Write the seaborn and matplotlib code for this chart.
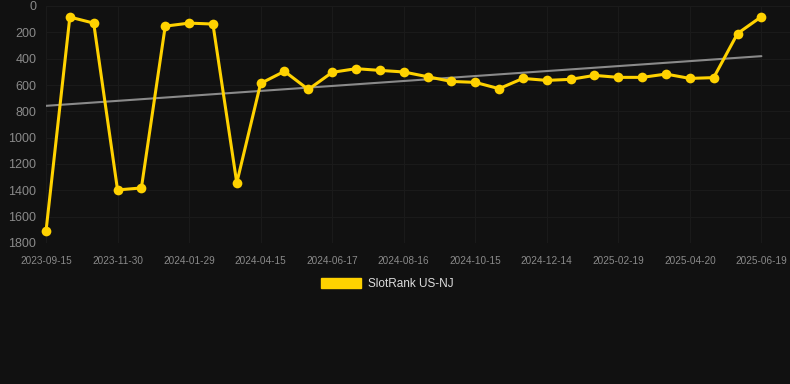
import numpy as np
import pandas as pd
import matplotlib
matplotlib.use("Agg")
import matplotlib.pyplot as plt
import matplotlib.patches as mpatches
import seaborn as sns

# rank values (lower is better), one per observation
ranks = [1710, 84, 130, 1397, 1382, 153, 130, 137, 1343, 588,
         496, 634, 504, 476, 489, 501, 537, 573, 580, 628,
         550, 565, 557, 527, 542, 542, 517, 550, 544, 209, 81]
tick_labels = ['2023-09-15', '2023-11-30', '2024-01-29', '2024-04-15',
               '2024-06-17', '2024-08-16', '2024-10-15', '2024-12-14',
               '2025-02-19', '2025-04-20', '2025-06-19']
series_name = 'SlotRank US-NJ'

bg = '#111111'
gold = '#FFD200'

sns.set_theme(style='dark')
plt.rcParams['font.family'] = ['Liberation Sans', 'DejaVu Sans']

df = pd.DataFrame({'idx': np.arange(len(ranks)), 'rank': ranks})

fig = plt.figure(figsize=(7.9, 3.84), dpi=100, facecolor=bg)
ax = fig.add_axes([46 / 790, (384 - 243) / 384, 744 / 790, 237 / 384])
ax.set_facecolor(bg)

# trend line (least squares fit)
k, b = np.polyfit(df['idx'], df['rank'], 1)
trend = pd.DataFrame({'idx': [0, len(ranks) - 1]})
trend['rank'] = k * trend['idx'] + b
sns.lineplot(data=trend, x='idx', y='rank', ax=ax, color='#8a8a8a', linewidth=1.5)

sns.lineplot(data=df, x='idx', y='rank', ax=ax, color=gold, linewidth=2.2,
             marker='o', markersize=7, markeredgewidth=0, clip_on=False)

ax.set_ylim(1800, 0)
ax.set_xlim(0, 31.2)
ax.set_yticks(range(0, 1801, 200))
ax.set_xticks(range(0, len(ranks), 3))
ax.set_xticklabels(tick_labels)
ax.set_xlabel('')
ax.set_ylabel('')
ax.grid(True, color='#1a1a1a', linewidth=0.8)
for s in ax.spines.values():
    s.set_visible(False)
ax.tick_params(axis='y', length=0, pad=7, labelsize=9, labelcolor='#8a8a8a')
ax.tick_params(axis='x', length=0, pad=9, labelsize=7.2, labelcolor='#8a8a8a')

handle = mpatches.Patch(color=gold, label=series_name)
fig.legend(handles=[handle], loc='center', bbox_to_anchor=(387 / 790, 1 - 284 / 384),
           frameon=False, fontsize=8.5, labelcolor='#dddddd',
           handlelength=3.4, handleheight=1.0, handletextpad=0.6)

fig.savefig('out.png', dpi=100, facecolor=bg)
